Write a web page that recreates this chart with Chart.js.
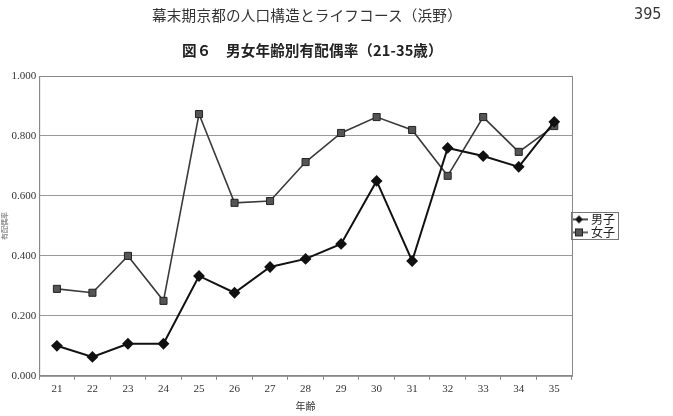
<!DOCTYPE html>
<html lang="ja">
<head>
<meta charset="utf-8">
<title>図6 男女年齢別有配偶率</title>
<script src="https://cdn.jsdelivr.net/npm/chart.js@4"></script>
<style>
  html, body { margin: 0; padding: 0; background: #fff; }
  #wrap { position: relative; width: 673px; height: 416px; overflow: hidden; }
  #chart { position: absolute; left: 0; top: 0; }
  .head { position: absolute; top: 4px; left: 152px; font: 14.6px "Noto Sans CJK JP", sans-serif; color: #333; letter-spacing: 0.2px; }
  .page { position: absolute; top: 4px; left: 634px; font: 16px "Liberation Sans Narrow", "DejaVu Sans Condensed", sans-serif; color: #333; }
  .fig { position: absolute; top: 39px; left: 182px; font: bold 14.6px "Noto Sans CJK JP", sans-serif; color: #222; letter-spacing: 0.1px; }
</style>
</head>
<body>
<div id="wrap">
  <canvas id="chart" width="673" height="416"></canvas>
  <div class="head">幕末期京都の人口構造とライフコース（浜野）</div>
  <div class="page">395</div>
  <div class="fig">図６　男女年齢別有配偶率（21-35歳）</div>
</div>
<script>
  const AGES = ["21", "22", "23", "24", "25", "26", "27", "28", "29", "30", "31", "32", "33", "34", "35"];
  const MALE = [0.100, 0.063, 0.107, 0.107, 0.333, 0.277, 0.363, 0.390, 0.440, 0.650, 0.383, 0.760, 0.733, 0.697, 0.847];
  const FEMALE = [0.290, 0.277, 0.400, 0.250, 0.873, 0.577, 0.583, 0.713, 0.810, 0.863, 0.820, 0.667, 0.863, 0.747, 0.833];
  const SERIES_LABELS = ["男子", "女子"];

  // small legend swatch: line with the marker in the middle
  function swatch(kind) {
    const c = document.createElement("canvas");
    c.width = 18; c.height = 10;
    const g = c.getContext("2d");
    g.strokeStyle = kind === "male" ? "#111" : "#333";
    g.lineWidth = 1.5;
    g.beginPath(); g.moveTo(0, 5); g.lineTo(18, 5); g.stroke();
    if (kind === "male") {
      g.fillStyle = "#111";
      g.beginPath(); g.moveTo(9, 1); g.lineTo(13, 5); g.lineTo(9, 9); g.lineTo(5, 5); g.closePath(); g.fill();
    } else {
      g.fillStyle = "#555"; g.fillRect(5, 1, 8, 8);
      g.strokeStyle = "#222"; g.lineWidth = 1; g.strokeRect(5.5, 1.5, 7, 7);
    }
    return c;
  }

  const frame = {
    id: "frame",
    afterDraw(chart) {
      const { ctx, chartArea: a, legend } = chart;
      ctx.save();
      ctx.strokeStyle = "#888";
      ctx.lineWidth = 1;
      ctx.strokeRect(a.left + 0.5, a.top + 0.5, a.right - a.left, a.bottom - a.top);
      if (legend && legend.legendHitBoxes.length) {
        const boxes = legend.legendHitBoxes;
        const x0 = Math.min(...boxes.map(b => b.left)) - 2;
        const y0 = Math.min(...boxes.map(b => b.top)) - 1;
        const x1 = Math.max(...boxes.map(b => b.left + b.width)) + 3;
        const y1 = Math.max(...boxes.map(b => b.top + b.height)) + 1;
        ctx.strokeStyle = "#777";
        ctx.strokeRect(Math.round(x0) + 0.5, Math.round(y0) + 0.5, Math.round(x1 - x0), Math.round(y1 - y0));
      }
      ctx.restore();
    }
  };

  new Chart(document.getElementById("chart"), {
    type: "line",
    data: {
      labels: AGES,
      datasets: [
        {
          label: SERIES_LABELS[0],
          data: MALE,
          borderColor: "#111",
          borderWidth: 2,
          pointStyle: "rectRot",
          pointRadius: 4.5,
          pointBackgroundColor: "#111",
          pointBorderColor: "#111",
          tension: 0
        },
        {
          label: SERIES_LABELS[1],
          data: FEMALE,
          borderColor: "#3a3a3a",
          borderWidth: 1.6,
          pointStyle: "rect",
          pointRadius: 5,
          pointBackgroundColor: "#555",
          pointBorderColor: "#222",
          pointBorderWidth: 1,
          tension: 0
        }
      ]
    },
    options: {
      responsive: false,
      animation: false,
      layout: { padding: { top: 76, left: 0, right: 48, bottom: 5 } },
      plugins: {
        title: { display: false },
        tooltip: { enabled: false },
        legend: {
          position: "right",
          align: "center",
          fullSize: false,
          labels: {
            color: "#222",
            font: { family: "'Noto Sans CJK JP', sans-serif", size: 12 },
            padding: 1,
            boxWidth: 18,
            boxHeight: 10,
            usePointStyle: true,
            generateLabels: (chart) => chart.data.datasets.map((ds, i) => ({
              text: ds.label,
              pointStyle: swatch(i === 0 ? "male" : "female"),
              datasetIndex: i,
              hidden: false,
              fontColor: "#222",
              lineWidth: 0
            }))
          }
        }
      },
      scales: {
        x: {
          offset: true,
          grid: { display: true, drawOnChartArea: false, offset: true, tickLength: 4, color: "#888" },
          border: { color: "#888" },
          ticks: { color: "#333", font: { family: "'Liberation Serif', serif", size: 11 }, padding: 3 },
          title: { display: true, text: "年齢", color: "#333", font: { family: "'Noto Sans CJK JP', sans-serif", size: 10, lineHeight: 1 }, padding: { top: 2, bottom: 0 } }
        },
        y: {
          min: 0,
          max: 1,
          grid: { color: "#999", drawTicks: false },
          border: { color: "#888" },
          ticks: {
            stepSize: 0.2,
            padding: 3,
            color: "#333",
            font: { family: "'Liberation Serif', serif", size: 11 },
            callback: (v) => Number(v).toFixed(3)
          },
          title: { display: true, text: "有配偶率", color: "#666", font: { family: "'Noto Sans CJK JP', sans-serif", size: 7, lineHeight: 1.2 }, padding: 0 }
        }
      }
    },
    plugins: [frame]
  });
</script>
</body>
</html>
